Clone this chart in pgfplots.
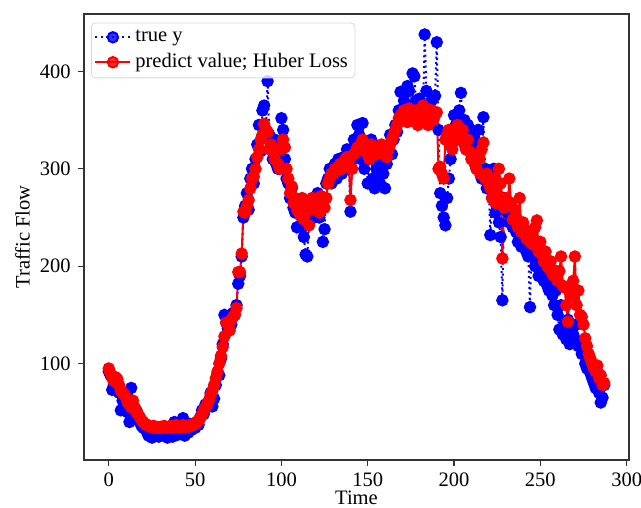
\documentclass[border=0pt]{standalone}
\usepackage{fontspec}
\setmainfont{Liberation Serif}
\usepackage{pgfplots}
\usepackage{pgfplotstable}
\pgfplotsset{compat=1.18}

\pgfplotstableread[row sep=\\]{y\\
92\\88\\73\\78\\84\\80\\70\\52\\62\\68\\
55\\50\\40\\75\\58\\48\\52\\45\\40\\36\\
34\\38\\30\\26\\28\\24\\32\\27\\30\\25\\
28\\33\\26\\30\\24\\29\\36\\25\\40\\31\\
27\\35\\30\\44\\26\\33\\29\\38\\32\\36\\
34\\40\\37\\45\\52\\48\\58\\55\\62\\70\\
56\\64\\78\\90\\88\\105\\120\\150\\142\\136\\
148\\140\\152\\150\\160\\182\\190\\210\\250\\262\\
275\\258\\290\\300\\285\\310\\325\\345\\318\\360\\
365\\340\\390\\335\\320\\310\\330\\305\\300\\325\\
352\\340\\310\\290\\285\\270\\280\\260\\255\\240\\
255\\262\\240\\230\\212\\210\\245\\258\\270\\250\\
262\\275\\250\\268\\225\\238\\285\\290\\300\\285\\
298\\305\\290\\310\\300\\295\\312\\308\\320\\305\\
256\\310\\330\\325\\345\\335\\310\\347\\300\\320\\
285\\315\\330\\290\\280\\300\\310\\285\\320\\295\\
280\\305\\320\\335\\315\\330\\345\\338\\360\\379\\
360\\370\\355\\385\\380\\360\\398\\395\\370\\365\\
372\\360\\355\\438\\380\\365\\350\\370\\355\\375\\
430\\340\\275\\262\\250\\242\\270\\290\\310\\330\\
355\\345\\330\\360\\378\\340\\350\\320\\345\\335\\
325\\310\\330\\300\\340\\320\\290\\353\\300\\280\\
290\\232\\270\\300\\255\\260\\245\\230\\165\\270\\
265\\255\\245\\260\\240\\250\\235\\225\\240\\220\\
235\\225\\215\\210\\158\\230\\215\\200\\205\\190\\
210\\195\\185\\200\\180\\175\\190\\170\\160\\175\\
150\\135\\160\\130\\140\\125\\145\\120\\135\\130\\
125\\140\\118\\122\\110\\120\\100\\95\\105\\90\\
85\\80\\75\\92\\70\\60\\65\\78\\
}\truey

\pgfplotstableread[row sep=\\]{y\\
95\\90\\85\\82\\86\\84\\78\\72\\70\\68\\
65\\60\\58\\55\\62\\55\\50\\48\\45\\42\\
40\\38\\37\\36\\35\\35\\36\\34\\35\\34\\
35\\34\\36\\35\\34\\35\\36\\34\\35\\37\\
35\\36\\34\\37\\35\\36\\35\\37\\36\\38\\
38\\40\\42\\44\\48\\52\\55\\58\\62\\68\\
72\\78\\85\\92\\100\\108\\117\\128\\142\\140\\
134\\145\\148\\150\\157\\194\\194\\213\\256\\255\\
262\\268\\280\\290\\292\\300\\312\\320\\330\\335\\
346\\340\\338\\320\\325\\318\\310\\320\\305\\300\\
320\\330\\322\\300\\290\\275\\282\\265\\270\\258\\
262\\252\\270\\248\\255\\260\\242\\265\\270\\258\\
262\\268\\255\\272\\265\\260\\270\\285\\290\\295\\
295\\300\\298\\302\\305\\300\\306\\310\\312\\308\\
268\\300\\315\\318\\322\\320\\325\\330\\318\\322\\
315\\310\\325\\318\\320\\315\\322\\318\\325\\320\\
315\\312\\320\\325\\330\\335\\340\\345\\352\\355\\
350\\360\\355\\348\\362\\350\\358\\352\\360\\345\\
358\\350\\365\\355\\362\\345\\352\\360\\350\\355\\
358\\300\\302\\295\\290\\330\\335\\340\\325\\320\\
330\\338\\345\\335\\330\\340\\325\\320\\330\\318\\
310\\315\\305\\300\\310\\295\\320\\327\\290\\295\\
285\\280\\270\\290\\265\\275\\300\\285\\208\\260\\
270\\262\\290\\265\\248\\258\\250\\240\\270\\235\\
245\\238\\228\\235\\225\\230\\222\\240\\247\\215\\
225\\212\\205\\215\\200\\198\\205\\192\\190\\195\\
185\\195\\210\\180\\178\\160\\143\\175\\170\\185\\
210\\160\\175\\150\\148\\140\\126\\118\\110\\105\\
100\\95\\92\\98\\85\\88\\78\\80\\
}\predy

\begin{document}
\fontsize{10.3}{12}\selectfont
\begin{tikzpicture}
\begin{axis}[
  name=ax,
  scale only axis,
  width=272.5bp, height=223bp,
  xmin=-14.35, xmax=301.35,
  ymin=1, ymax=459,
  xtick={0,50,100,150,200,250,300},
  ytick={100,200,300,400},
  axis line style={line width=0.55bp, black!80},
  tick style={line width=0.55bp, black!80},
  tick align=outside,
  major tick length=3bp,
  xtick pos=bottom, ytick pos=left,
  /pgf/number format/assume math mode=true,
  ticklabel style={font=\fontsize{10.3}{12}\selectfont},
  label style={font=\fontsize{10.3}{12}\selectfont},
  xlabel={Time},
  ylabel={Traffic Flow},
  xlabel style={yshift=5bp},
  ylabel style={yshift=-2bp},
  legend cell align=left,
  legend style={
    at={(axis description cs:0,1)}, anchor=north west,
    xshift=3.5bp, yshift=-4.3bp,
    draw=black!15, rounded corners=2bp, fill=white,
    fill opacity=0.8, text opacity=1,
    font=\fontsize{10.3}{12}\selectfont,
    inner sep=1.5bp, row sep=0.5bp,
  },
  legend image code/.code={
    \draw[mark repeat=2, mark phase=2] plot coordinates {(0bp,0bp) (8.75bp,0bp) (17.5bp,0bp)};
  },
]
\addplot[blue, line width=1bp, dash pattern=on 1bp off 1.7bp,
  mark=*, mark size=2.6bp, mark options={solid, fill=blue, draw=blue}]
  table[x expr=\coordindex, y=y] {\truey};
\addlegendentry{true y}
\addplot[red, line width=1bp,
  mark=*, mark size=2.6bp, mark options={solid, fill=red, draw=red}]
  table[x expr=\coordindex, y=y] {\predy};
\addlegendentry{predict value; Huber Loss}
\end{axis}
\pgfresetboundingbox
\path ([xshift=-42bp,yshift=-24bp]ax.south west) rectangle ([xshift=6bp,yshift=7bp]ax.north east);
\end{tikzpicture}
\end{document}
